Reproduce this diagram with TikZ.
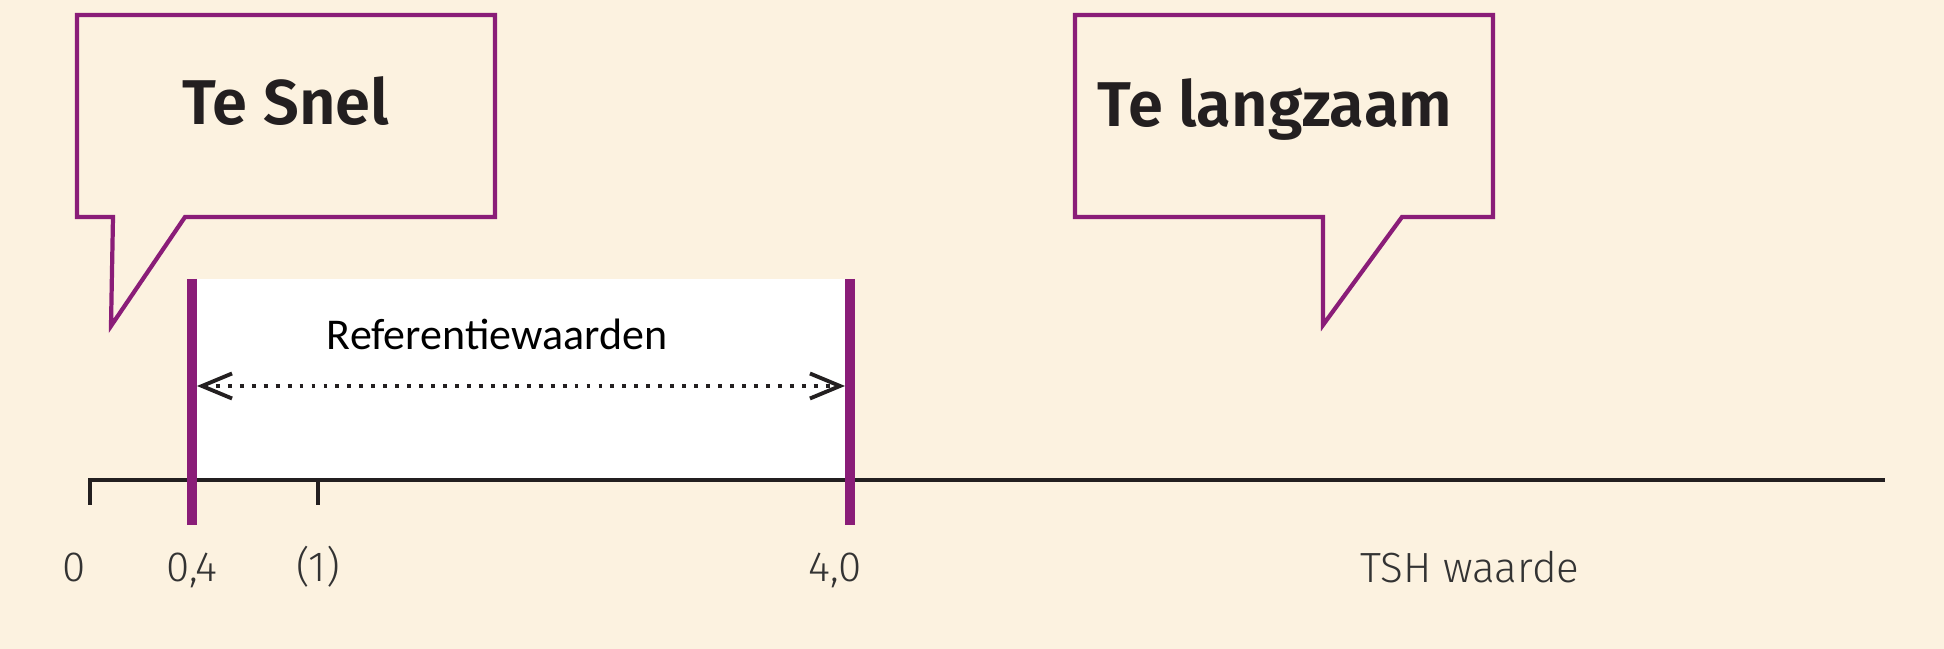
\documentclass[tikz,border=0pt]{standalone}
\usepackage{fontspec}
\setmainfont[BoldFont={Fira Sans SemiBold}]{Fira Sans}
\newfontfamily\lightfont{Fira Sans Light}
\newfontfamily\calibrifont{Carlito}
\usetikzlibrary{arrows.meta}
\definecolor{cream}{HTML}{FCF2E0}
\definecolor{tshpurple}{HTML}{8A1D78}
\definecolor{inkdark}{HTML}{231F20}

\begin{document}
\begin{tikzpicture}[x=0.01cm, y=-0.01cm,
	bubble/.style={draw=tshpurple, line width=1.2pt, line join=miter},
	bubtext/.style={inner sep=0pt, font=\fontsize{18}{20}\selectfont\bfseries, text=inkdark},
	refbar/.style={draw=tshpurple, line width=0.1cm},
	axisline/.style={draw=inkdark, line width=1.3pt, line join=miter},
	ticklab/.style={inner sep=0pt, anchor=base, font=\lightfont\fontsize{12}{14}\selectfont, text=black!80},
	refarrow/.style={arrows={Straight Barb[length=0.3cm,width=0.25cm,line width=1.1pt]-Straight Barb[length=0.3cm,width=0.25cm,line width=1.1pt]},
		line width=1.1pt, dash pattern=on 1.1pt off 2.3pt, draw=inkdark}]
		\def\ax{480}
		\def\ay{386}
		\def\lb{582}
		% background and reference band
		\fill[cream] (0,0) rectangle (1944,649);
		\useasboundingbox (0,0) rectangle (1944,649);
		\fill[white] (197,279) rectangle (850,478);
		% speech bubbles
		\draw[bubble] (77,15) -- (495,15) -- (495,217) -- (185,217) -- (111,326) -- (113,217) -- (77,217) -- cycle;
		\draw[bubble] (1075,15) -- (1493,15) -- (1493,217) -- (1402,217) -- (1323,325) -- (1323,217) -- (1075,217) -- cycle;
		\node[bubtext, anchor=base] (snel) at (286,125) {Te Snel};
		\node[bubtext, anchor=base west] (langzaam) at (1097,127) {Te langzaam};
		% axis
		\coordinate (t0) at (90,505);
		\coordinate (a0) at (90,\ax);
		\coordinate (aend) at (1885,\ax);
		\coordinate (t1top) at (318,\ax);
		\coordinate (t1) at (318,505);
		\draw[axisline] (t0) -- (a0) -- (aend);
		\draw[axisline] (t1top) -- (t1);
		% limits of the reference values
		\coordinate (lotop) at (192,279);
		\coordinate (lobot) at (192,525);
		\coordinate (hitop) at (850,279);
		\coordinate (hibot) at (850,525);
		\draw[refbar] (lotop) -- (lobot);
		\draw[refbar] (hitop) -- (hibot);
		\coordinate (loarr) at (197,\ay);
		\coordinate (hiarr) at (845,\ay);
		\draw[refarrow] (loarr) -- (hiarr);
		\node[inner sep=0pt, anchor=base, font=\calibrifont\fontsize{12.5}{14}\selectfont] (ref) at (497,350) {Referentiewaarden};
		% tick labels
		\node[ticklab] (l0) at (74,\lb) {0};
		\node[ticklab] (l04) at (192,\lb) {0,4};
		\node[ticklab] (l1) at (318,\lb) {(1)};
		\node[ticklab] (l40) at (835,\lb) {4,0};
		\node[ticklab, anchor=base west] (tsh) at (1360,583) {TSH waarde};
	\end{tikzpicture}
\end{document}
